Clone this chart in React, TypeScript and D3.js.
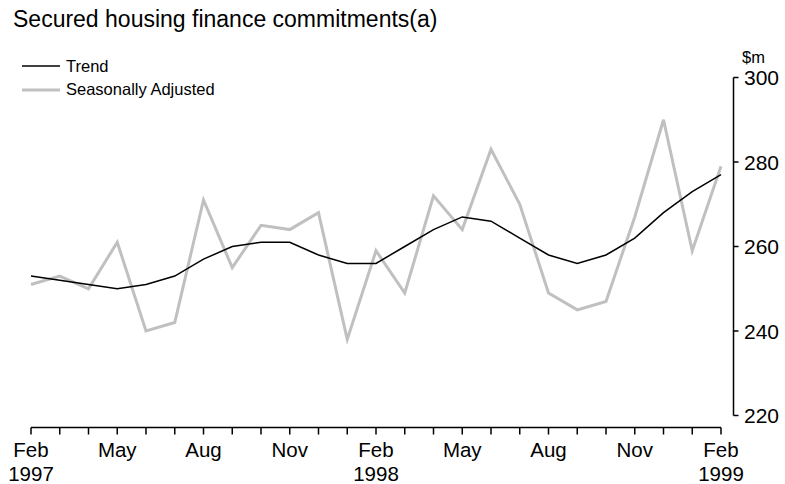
import React from "react";
import * as d3 from "d3";

const months = [
  "Feb 1997","Mar 1997","Apr 1997","May 1997","Jun 1997","Jul 1997","Aug 1997","Sep 1997","Oct 1997","Nov 1997","Dec 1997",
  "Jan 1998","Feb 1998","Mar 1998","Apr 1998","May 1998","Jun 1998","Jul 1998","Aug 1998","Sep 1998","Oct 1998","Nov 1998","Dec 1998",
  "Jan 1999","Feb 1999",
];
const trend = [253,252,251,250,251,253,257,260,261,261,258,256,256,260,264,267,266,262,258,256,258,262,268,273,277];
const seasonallyAdjusted = [251,253,250,261,240,242,271,255,265,264,268,238,259,249,272,264,283,270,249,245,247,267,290,259,279];
const yTicks = [220,240,260,280,300];
const xLabelIdx = [0,3,6,9,12,15,18,21,24];
const xLabelMonth = ["Feb","May","Aug","Nov","Feb","May","Aug","Nov","Feb"];
const xLabelYear = ["1997","","","","1998","","","","1999"];

const W = 785, H = 484;
const FONT = "'Liberation Sans', Arial, sans-serif";

export default function App() {
  const x = d3.scaleLinear().domain([0, months.length - 1]).range([31, 721]);
  const y = d3.scaleLinear().domain([220, 300]).range([415.5, 77.5]);
  const line = d3.line<number>().x((_, i) => x(i)).y((d) => y(d));
  const axisX = 733.5;
  const baseY = 427.5;
  return (
    <svg width={W} height={H} style={{ position: "absolute", left: 0, top: 0 }} fontFamily={FONT}>
      <rect width={W} height={H} fill="#fff" />
      <text x={13} y={27} fontSize={23} fill="#000">Secured housing finance commitments(a)</text>
      <line x1={22} x2={60} y1={66} y2={66} stroke="#000" strokeWidth={1.5} />
      <text x={66} y={72} fontSize={16.5} fill="#000">Trend</text>
      <line x1={22} x2={60} y1={90} y2={90} stroke="#c0c0c0" strokeWidth={3} />
      <text x={66} y={95} fontSize={16.5} fill="#000">Seasonally Adjusted</text>

      {/* y axis */}
      <text x={742} y={63} fontSize={16.5} fill="#000">$m</text>
      <line x1={axisX} x2={axisX} y1={y(300)} y2={y(220)} stroke="#000" strokeWidth={1.5} />
      {yTicks.map((t) => (
        <g key={t}>
          <line x1={axisX} x2={axisX + 5} y1={y(t)} y2={y(t)} stroke="#000" strokeWidth={1.5} />
          <text x={744} y={y(t) + 7.5} fontSize={21} fill="#000">{t}</text>
        </g>
      ))}

      {/* x axis */}
      <line x1={x(0)} x2={x(months.length - 1)} y1={baseY} y2={baseY} stroke="#000" strokeWidth={1.5} />
      {months.map((m, i) => (
        <line key={m} x1={x(i)} x2={x(i)} y1={baseY} y2={baseY + 7} stroke="#000" strokeWidth={1.5} />
      ))}
      {xLabelIdx.map((idx, k) => (
        <g key={idx}>
          <text x={x(idx)} y={457} fontSize={20.5} textAnchor="middle" fill="#000">{xLabelMonth[k]}</text>
          {xLabelYear[k] && (
            <text x={x(idx)} y={481} fontSize={20.5} textAnchor="middle" fill="#000">{xLabelYear[k]}</text>
          )}
        </g>
      ))}

      <path d={line(seasonallyAdjusted) || ""} fill="none" stroke="#c0c0c0" strokeWidth={3} />
      <path d={line(trend) || ""} fill="none" stroke="#000" strokeWidth={1.5} />
    </svg>
  );
}
